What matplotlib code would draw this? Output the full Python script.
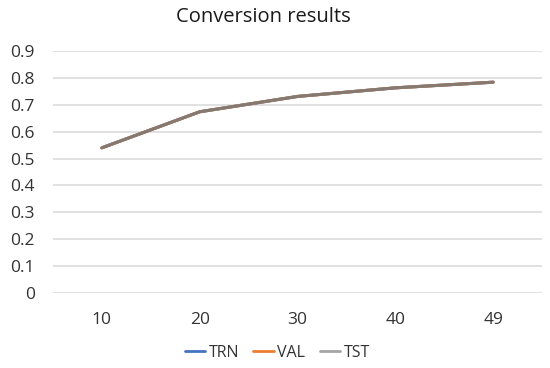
import matplotlib
matplotlib.use('Agg')
import matplotlib.pyplot as plt

# data
categories = ['10', '20', '30', '40', '49']
trn = [0.540, 0.674, 0.731, 0.763, 0.784]
val = [0.540, 0.674, 0.731, 0.763, 0.784]
tst = [0.540, 0.674, 0.731, 0.763, 0.784]
yticks = [0, 0.1, 0.2, 0.3, 0.4, 0.5, 0.6, 0.7, 0.8, 0.9]
ylabels = ['0', '0.1', '0.2', '0.3', '0.4', '0.5', '0.6', '0.7', '0.8', '0.9']

plt.rcParams['font.family'] = ['Open Sans', 'DejaVu Sans']

fig = plt.figure(figsize=(5.5, 3.68), dpi=100)
ax = fig.add_axes([0.0964, 0.2038, 0.8891, 0.6576])

x = list(range(len(categories)))
ax.plot(x, trn, color='#4472C4', lw=2.2, label='TRN', solid_capstyle='round')
ax.plot(x, val, color='#ED7D31', lw=2.2, label='VAL', solid_capstyle='round')
ax.plot(x, tst, color='#857a72', lw=2.2, label='TST', solid_capstyle='round')

ax.set_xlim(-0.5, 4.5)
ax.set_ylim(0, 0.9)
ax.set_xticks(x)
ax.set_xticklabels(categories)
ax.set_yticks(yticks)
ax.set_yticklabels(ylabels)
ax.tick_params(length=0, labelsize=12.5, colors='#333333')
ax.tick_params(axis='y', pad=13)
ax.tick_params(axis='x', pad=14)
ax.yaxis.grid(True, color='#D9D9D9', lw=1.1)
ax.set_axisbelow(True)
for s in ax.spines.values():
    s.set_visible(False)

fig.text(0.478, 0.955, 'Conversion results', ha='center', va='center',
         fontsize=14.5, color='#1a1a1a')

leg = ax.legend(loc='center', ncol=3, frameon=False, fontsize=11.5,
                handlelength=1.3, handletextpad=0.2, columnspacing=0.9)
leg.set_bbox_to_anchor((0.504, 0.041), transform=fig.transFigure)
leg.get_lines()[2].set_color('#A5A5A5')
for ln in leg.get_lines():
    ln.set_linewidth(2.0)
for t in leg.get_texts():
    t.set_color('#333333')

fig.savefig('out.png', dpi=100)
